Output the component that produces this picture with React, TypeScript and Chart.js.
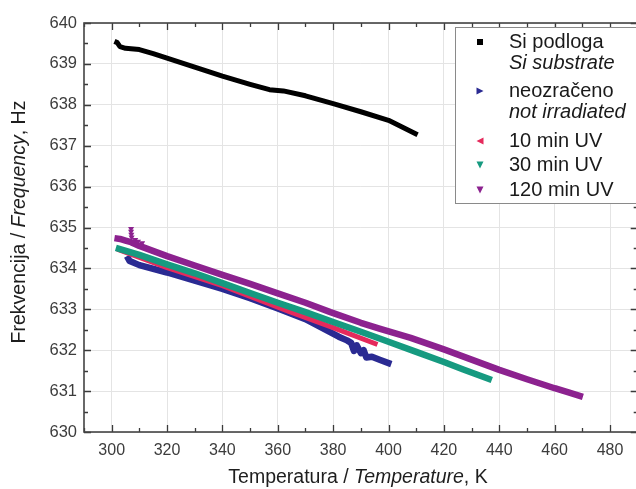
import React, { useEffect, useRef } from "react";
import { Chart, registerables } from "chart.js";

Chart.register(...registerables);

// ---- data ----
const siT = [301, 302, 303, 305, 310, 315, 320, 330, 340, 350, 357, 362, 370, 380, 390, 400, 410.5];
const siF = [639.55, 639.52, 639.42, 639.38, 639.35, 639.25, 639.14, 638.92, 638.7, 638.5, 638.37, 638.34, 638.22, 638.03, 637.83, 637.62, 637.27];

const neoT = [305.5, 306.5, 310, 320, 330, 340, 350, 360, 370, 382, 385, 386.5, 387.5, 388.5, 390, 391, 392, 394, 397, 401];
const neoF = [634.3, 634.18, 634.08, 633.9, 633.7, 633.5, 633.27, 633.02, 632.76, 632.33, 632.24, 632.18, 631.98, 632.12, 631.93, 632.0, 631.82, 631.84, 631.76, 631.66];

const uv10T = [302, 320, 340, 364, 380, 396];
const uv10F = [634.47, 634.02, 633.58, 632.95, 632.55, 632.14];

const uv30T = [301.5, 310, 320, 330, 340, 350, 360, 370, 380, 390, 397, 410, 420, 427, 437.3];
const uv30F = [634.5, 634.33, 634.1, 633.88, 633.64, 633.4, 633.16, 632.93, 632.69, 632.45, 632.28, 631.96, 631.71, 631.53, 631.27];

const uv120T = [301, 303, 305, 307, 310, 320, 330, 340, 350, 360, 370, 379, 390, 397, 408, 420, 430, 440, 450, 460, 465, 470.2];
const uv120F = [634.74, 634.72, 634.68, 634.64, 634.55, 634.3, 634.07, 633.84, 633.62, 633.39, 633.16, 632.93, 632.67, 632.52, 632.3, 632.02, 631.77, 631.52, 631.29, 631.07, 630.97, 630.86];
// scattered outlier points of the 120 min series near 307 K
const uv120OutT = [307, 307, 307.1, 307.2, 308.5, 309.5, 311];
const uv120OutF = [634.97, 634.9, 634.83, 634.76, 634.7, 634.66, 634.62];

const xTicks = [300, 320, 340, 360, 380, 400, 420, 440, 460, 480];
const yTicks = [630, 631, 632, 633, 634, 635, 636, 637, 638, 639, 640];

const legendMain = ["Si podloga", "neozračeno", "10 min UV", "30 min UV", "120 min UV"];
const legendSub = ["Si substrate", "not irradiated", "", "", ""];
const legendMarkers = ["square", "triRight", "triLeft", "triDown", "triDown"];
const colors = ["#000000", "#2a2a92", "#e52a5c", "#169a80", "#8c228f"];

const xTitle = [
  { t: "Temperatura / ", i: false },
  { t: "Temperature", i: true },
  { t: ", K", i: false },
];
const yTitle = [
  { t: "Frekvencija / ", i: false },
  { t: "Frequency", i: true },
  { t: ", Hz", i: false },
];

const FONT = '"Liberation Sans", Arial, sans-serif';

const pts = (xs: number[], ys: number[]) => xs.map((x, k) => ({ x, y: ys[k] }));

function drawMixed(ctx: CanvasRenderingContext2D, parts: { t: string; i: boolean }[], size: number) {
  let total = 0;
  const widths = parts.map((p) => {
    ctx.font = `${p.i ? "italic " : ""}${size}px ${FONT}`;
    const w = ctx.measureText(p.t).width;
    total += w;
    return w;
  });
  let x = -total / 2;
  parts.forEach((p, k) => {
    ctx.font = `${p.i ? "italic " : ""}${size}px ${FONT}`;
    ctx.fillText(p.t, x, 0);
    x += widths[k];
  });
}

const framePlugin = {
  id: "frame",
  afterDraw(chart: any) {
    const ctx: CanvasRenderingContext2D = chart.ctx;
    const { left, right, top, bottom } = chart.chartArea;
    const xs = chart.scales.x;
    const ys = chart.scales.y;
    ctx.save();
    // ticks (inward, all four sides)
    ctx.strokeStyle = "#3a3a3a";
    ctx.lineWidth = 1.3;
    ctx.beginPath();
    for (let v = 290; v <= 490; v += 10) {
      const px = Math.round(xs.getPixelForValue(v)) + 0.5;
      const len = v % 20 === 0 ? 7 : 4;
      ctx.moveTo(px, bottom);
      ctx.lineTo(px, bottom - len);
      ctx.moveTo(px, top);
      ctx.lineTo(px, top + len);
    }
    for (let v = 630; v <= 640.001; v += 0.5) {
      const py = Math.round(ys.getPixelForValue(v)) + 0.5;
      const len = Math.abs(v - Math.round(v)) < 0.01 ? 7 : 4;
      ctx.moveTo(left, py);
      ctx.lineTo(left + len, py);
      ctx.moveTo(right, py);
      ctx.lineTo(right - len, py);
    }
    ctx.stroke();
    // frame
    ctx.strokeStyle = "#444";
    ctx.lineWidth = 1.6;
    ctx.strokeRect(left, top, right - left, bottom - top);

    // legend
    const lx = 455.5, ly = 27.5;
    ctx.fillStyle = "#ffffff";
    ctx.fillRect(lx, ly, 220, 176);
    ctx.strokeStyle = "#8a8a8a";
    ctx.lineWidth = 1;
    ctx.strokeRect(lx, ly, 220, 176);
    const rows = [42, 91, 141, 165, 190];
    ctx.textBaseline = "middle";
    ctx.textAlign = "left";
    legendMain.forEach((label, k) => {
      const cy = rows[k];
      const cx = 480;
      ctx.fillStyle = colors[k];
      ctx.beginPath();
      const m = legendMarkers[k];
      const s = 3.5;
      if (m === "square") {
        ctx.rect(cx - 3, cy - 3, 6, 6);
      } else if (m === "triRight") {
        ctx.moveTo(cx - s, cy - s);
        ctx.lineTo(cx + s, cy);
        ctx.lineTo(cx - s, cy + s);
      } else if (m === "triLeft") {
        ctx.moveTo(cx + s, cy - s);
        ctx.lineTo(cx - s, cy);
        ctx.lineTo(cx + s, cy + s);
      } else {
        ctx.moveTo(cx - s, cy - s);
        ctx.lineTo(cx + s, cy - s);
        ctx.lineTo(cx, cy + s);
      }
      ctx.closePath();
      ctx.fill();
      ctx.fillStyle = "#1a1a1a";
      ctx.font = `20px ${FONT}`;
      ctx.fillText(label, 509, cy);
      if (legendSub[k]) {
        ctx.font = `italic 20px ${FONT}`;
        ctx.fillText(legendSub[k], 509, cy + 21);
      }
    });

    // axis titles
    ctx.fillStyle = "#1e1e1e";
    ctx.textAlign = "left";
    ctx.textBaseline = "middle";
    ctx.save();
    ctx.translate(358, 478);
    drawMixed(ctx, xTitle, 19.5);
    ctx.restore();
    ctx.save();
    ctx.translate(20, 222);
    ctx.rotate(-Math.PI / 2);
    drawMixed(ctx, yTitle, 19.5);
    ctx.restore();
    ctx.restore();
  },
};

export default function App() {
  const ref = useRef<HTMLCanvasElement>(null);
  useEffect(() => {
    document.body.style.margin = "0";
    document.body.style.overflow = "hidden";
    const series = [
      { T: siT, F: siF, w: 5, order: 6 },
      { T: neoT, F: neoF, w: 6.5, order: 5 },
      { T: uv10T, F: uv10F, w: 5, order: 4 },
      { T: uv30T, F: uv30F, w: 6.5, order: 3 },
      { T: uv120T, F: uv120F, w: 6.5, order: 2 },
    ];
    const datasets: any[] = series.map((s, k) => ({
      label: legendMain[k],
      data: pts(s.T, s.F),
      showLine: true,
      borderColor: colors[k],
      backgroundColor: colors[k],
      borderWidth: s.w,
      pointRadius: 0,
      borderCapStyle: "butt",
      borderJoinStyle: "round",
      tension: 0,
      order: s.order,
    }));
    datasets.push({
      label: "120 min UV outliers",
      data: pts(uv120OutT, uv120OutF),
      showLine: false,
      pointStyle: "triangle",
      rotation: 180,
      pointRadius: 3.5,
      borderWidth: 0,
      backgroundColor: colors[4],
      borderColor: colors[4],
      order: 1,
    });
    const chart = new Chart(ref.current!, {
      type: "scatter",
      data: { datasets },
      options: {
        responsive: false,
        animation: false,
        layout: { padding: { top: 23, left: 0, right: 4.3, bottom: 0 } },
        plugins: { legend: { display: false }, tooltip: { enabled: false } },
        scales: {
          x: {
            type: "linear",
            min: 290,
            max: 490,
            afterBuildTicks: (s: any) => {
              s.ticks = xTicks.map((v) => ({ value: v }));
            },
            afterFit: (s: any) => {
              s.height = 57;
            },
            grid: { color: "#e4e4e4", lineWidth: 1, drawTicks: false },
            border: { display: false },
            ticks: {
              padding: 9,
              color: "#3c3c3c",
              font: { family: FONT, size: 16 },
              maxRotation: 0,
              callback: (v: any) => String(v),
            },
          },
          y: {
            type: "linear",
            min: 630,
            max: 640,
            afterBuildTicks: (s: any) => {
              s.ticks = yTicks.map((v) => ({ value: v }));
            },
            afterFit: (s: any) => {
              s.width = 84;
            },
            grid: { color: "#e4e4e4", lineWidth: 1, drawTicks: false },
            border: { display: false },
            ticks: {
              padding: 7,
              color: "#3c3c3c",
              font: { family: FONT, size: 16.5 },
              callback: (v: any) => String(v),
            },
          },
        },
      },
      plugins: [framePlugin],
    } as any);
    return () => chart.destroy();
  }, []);
  return (
    <div style={{ width: 636, height: 489, overflow: "hidden", background: "#fff" }}>
      <canvas ref={ref} width={642} height={489} style={{ display: "block" }} />
    </div>
  );
}
